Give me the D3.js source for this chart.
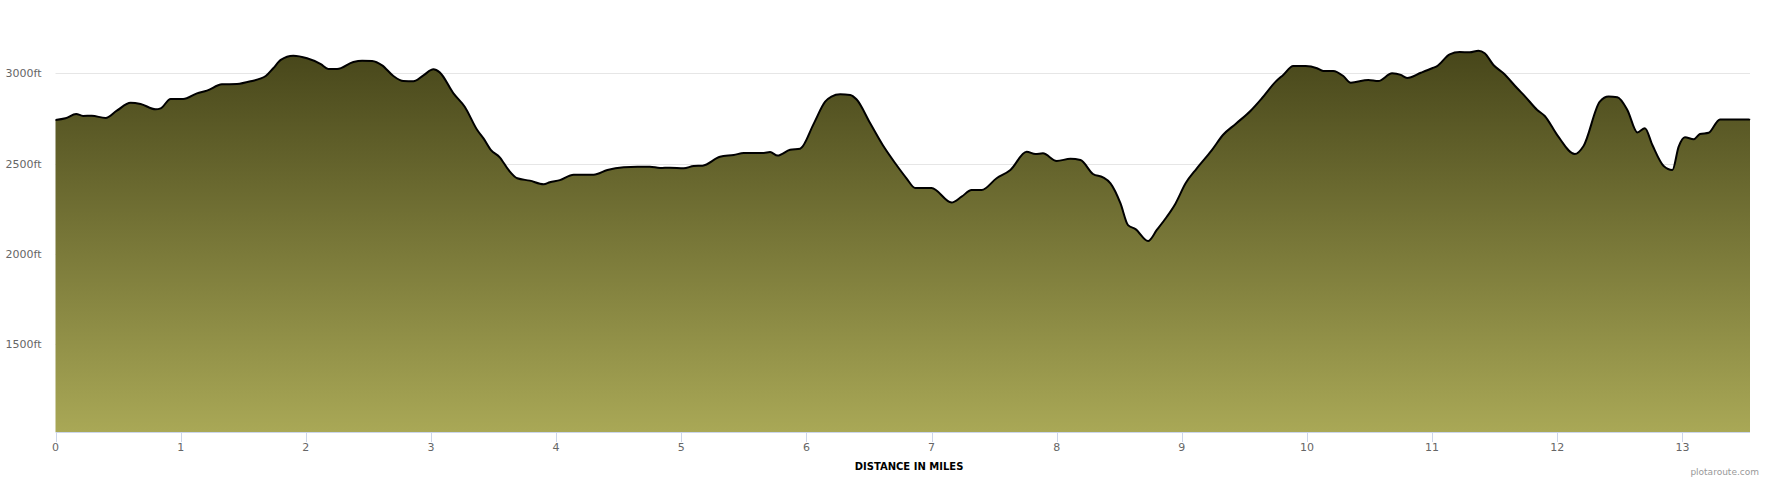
<!DOCTYPE html>
<meta charset="utf-8">
<style>
body { margin: 0; background: #fff; }
svg { display: block; font-family: "DejaVu Sans", Verdana, sans-serif; }
.grid line { stroke: #e6e6e6; stroke-width: 1; }
.tick-label { fill: #666; font-size: 11px; }
</style>
<svg width="1770" height="480"></svg>
<script src="https://d3js.org/d3.v7.min.js"></script>
<script>

// distance along the route (miles) and elevation (ft)
var distances = [0, 0.08, 0.165, 0.22, 0.29, 0.40, 0.49, 0.60, 0.68, 0.80, 0.84, 0.92, 1.02, 1.13, 1.21, 1.33, 1.45, 1.56, 1.68, 1.74,
  1.80, 1.90, 2.01, 2.12, 2.18, 2.25, 2.38, 2.45, 2.53, 2.61, 2.70, 2.78, 2.86, 2.94, 3.02, 3.07, 3.18, 3.27, 3.37, 3.42,
  3.48, 3.55, 3.62, 3.69, 3.79, 3.90, 3.95, 4.03, 4.14, 4.30, 4.41, 4.54, 4.65, 4.75, 4.83, 4.91, 5.02, 5.10, 5.17, 5.31,
  5.42, 5.50, 5.66, 5.71, 5.77, 5.87, 5.95, 6.06, 6.15, 6.20, 6.27, 6.35, 6.40, 6.51, 6.61, 6.71, 6.80, 6.87, 7.00, 7.16,
  7.24, 7.32, 7.40, 7.52, 7.63, 7.76, 7.83, 7.89, 8.00, 8.11, 8.19, 8.29, 8.37, 8.43, 8.51, 8.57, 8.63, 8.73, 8.80, 8.88,
  8.95, 9.03, 9.12, 9.24, 9.33, 9.43, 9.55, 9.64, 9.75, 9.81, 9.89, 9.99, 10.08, 10.13, 10.21, 10.29, 10.35, 10.49, 10.57, 10.68,
  10.75, 10.80, 10.91, 11.00, 11.04, 11.14, 11.22, 11.30, 11.37, 11.42, 11.49, 11.57, 11.68, 11.74, 11.84, 11.90, 12.00, 12.14, 12.21, 12.34,
  12.41, 12.48, 12.56, 12.64, 12.70, 12.76, 12.85, 12.92, 12.97, 13.02, 13.09, 13.14, 13.21, 13.30, 13.53, 13.54];

var elevations = [2742, 2751, 2775, 2764, 2765, 2753, 2793, 2837, 2830, 2801, 2806, 2858, 2858, 2889, 2904, 2939, 2941, 2956, 2985, 3028,
  3074, 3097, 3083, 3051, 3024, 3024, 3063, 3070, 3068, 3044, 2985, 2957, 2956, 2989, 3022, 3005, 2889, 2815, 2686, 2640,
  2575, 2535, 2465, 2419, 2406, 2386, 2397, 2409, 2439, 2439, 2465, 2480, 2483, 2483, 2476, 2478, 2474, 2487, 2489, 2538,
  2548, 2559, 2559, 2564, 2545, 2577, 2583, 2723, 2843, 2871, 2884, 2880, 2856, 2723, 2603, 2502, 2419, 2365, 2365, 2285,
  2317, 2354, 2354, 2419, 2465, 2566, 2553, 2557, 2515, 2527, 2520, 2443, 2424, 2391, 2280, 2160, 2138, 2072, 2133, 2206,
  2280, 2391, 2474, 2575, 2660, 2720, 2793, 2862, 2954, 2991, 3040, 3040, 3028, 3013, 3013, 2985, 2948, 2963, 2957, 3000,
  2991, 2974, 3003, 3028, 3040, 3105, 3118, 3116, 3125, 3111, 3046, 3000, 2917, 2874, 2797, 2764, 2658, 2553, 2598, 2843,
  2871, 2867, 2797, 2673, 2696, 2603, 2487, 2465, 2594, 2646, 2635, 2664, 2671, 2745, 2745, 2742];

var xTicks = [0, 1, 2, 3, 4, 5, 6, 7, 8, 9, 10, 11, 12, 13];
var yTicks = [1500, 2000, 2500, 3000];

var svg = d3.select("svg"),
    width = +svg.attr("width"),
    height = +svg.attr("height");

// plot box (window.top is reserved, so plotTop)
var plotLeft = 55.5, plotRight = 1750, plotTop = 73.3, plotBottom = 432;

var x = d3.scaleLinear().domain([0, 13.54]).range([plotLeft, plotRight]);
var y = d3.scaleLinear().domain([1015, 3000]).range([plotBottom, plotTop]);

var points = distances.map(function(d, i) { return {d: d, e: elevations[i]}; });

// gradient for the area, top of the profile to the axis
var maxE = d3.max(elevations);
var grad = svg.append("defs").append("linearGradient")
    .attr("id", "fillGrad")
    .attr("gradientUnits", "userSpaceOnUse")
    .attr("x1", 0).attr("x2", 0)
    .attr("y1", y(maxE)).attr("y2", plotBottom);
grad.append("stop").attr("offset", "0%").attr("stop-color", "#47461a");
grad.append("stop").attr("offset", "100%").attr("stop-color", "#a9a856");

// horizontal grid lines
svg.append("g").attr("class", "grid")
  .selectAll("line")
  .data(yTicks)
  .enter().append("line")
    .attr("x1", plotLeft).attr("x2", plotRight)
    .attr("y1", function(d) { return Math.round(y(d)) + 0.5; })
    .attr("y2", function(d) { return Math.round(y(d)) + 0.5; });

var area = d3.area()
    .x(function(p) { return x(p.d); })
    .y0(plotBottom)
    .y1(function(p) { return y(p.e); })
    .curve(d3.curveMonotoneX);

var line = d3.line()
    .x(function(p) { return x(p.d); })
    .y(function(p) { return y(p.e); })
    .curve(d3.curveMonotoneX);

svg.append("path")
    .datum(points)
    .attr("d", area)
    .attr("fill", "url(#fillGrad)");

svg.append("path")
    .datum(points)
    .attr("d", line)
    .attr("fill", "none")
    .attr("stroke", "#000")
    .attr("stroke-width", 2)
    .attr("stroke-linejoin", "round");

// x axis line and ticks
var xAxis = svg.append("g");
xAxis.append("line")
    .attr("x1", plotLeft).attr("x2", plotRight)
    .attr("y1", plotBottom + 0.5).attr("y2", plotBottom + 0.5)
    .attr("stroke", "#ccd6eb");

xAxis.selectAll("line.tick")
  .data(xTicks)
  .enter().append("line")
    .attr("class", "tick")
    .attr("x1", function(d) { return Math.round(x(d)) + 0.5; })
    .attr("x2", function(d) { return Math.round(x(d)) + 0.5; })
    .attr("y1", plotBottom).attr("y2", plotBottom + 10)
    .attr("stroke", "#ccd6eb");

xAxis.selectAll("text")
  .data(xTicks)
  .enter().append("text")
    .attr("class", "tick-label")
    .attr("x", function(d) { return x(d); })
    .attr("y", 450.5)
    .attr("text-anchor", "middle")
    .text(function(d) { return d; });

// y labels
svg.append("g").selectAll("text")
  .data(yTicks)
  .enter().append("text")
    .attr("class", "tick-label")
    .attr("x", 41.5)
    .attr("y", function(d) { return y(d) + 4; })
    .attr("text-anchor", "end")
    .text(function(d) { return d + "ft"; });

// axis title
svg.append("text")
    .attr("x", 909)
    .attr("y", 469.5)
    .attr("text-anchor", "middle")
    .style("font-size", "10px")
    .style("font-weight", "bold")
    .style("fill", "#000")
    .text("DISTANCE IN MILES");

// credits
svg.append("text")
    .attr("x", 1759)
    .attr("y", 475)
    .attr("text-anchor", "end")
    .style("font-size", "9px")
    .style("fill", "#999")
    .text("plotaroute.com");

</script>
